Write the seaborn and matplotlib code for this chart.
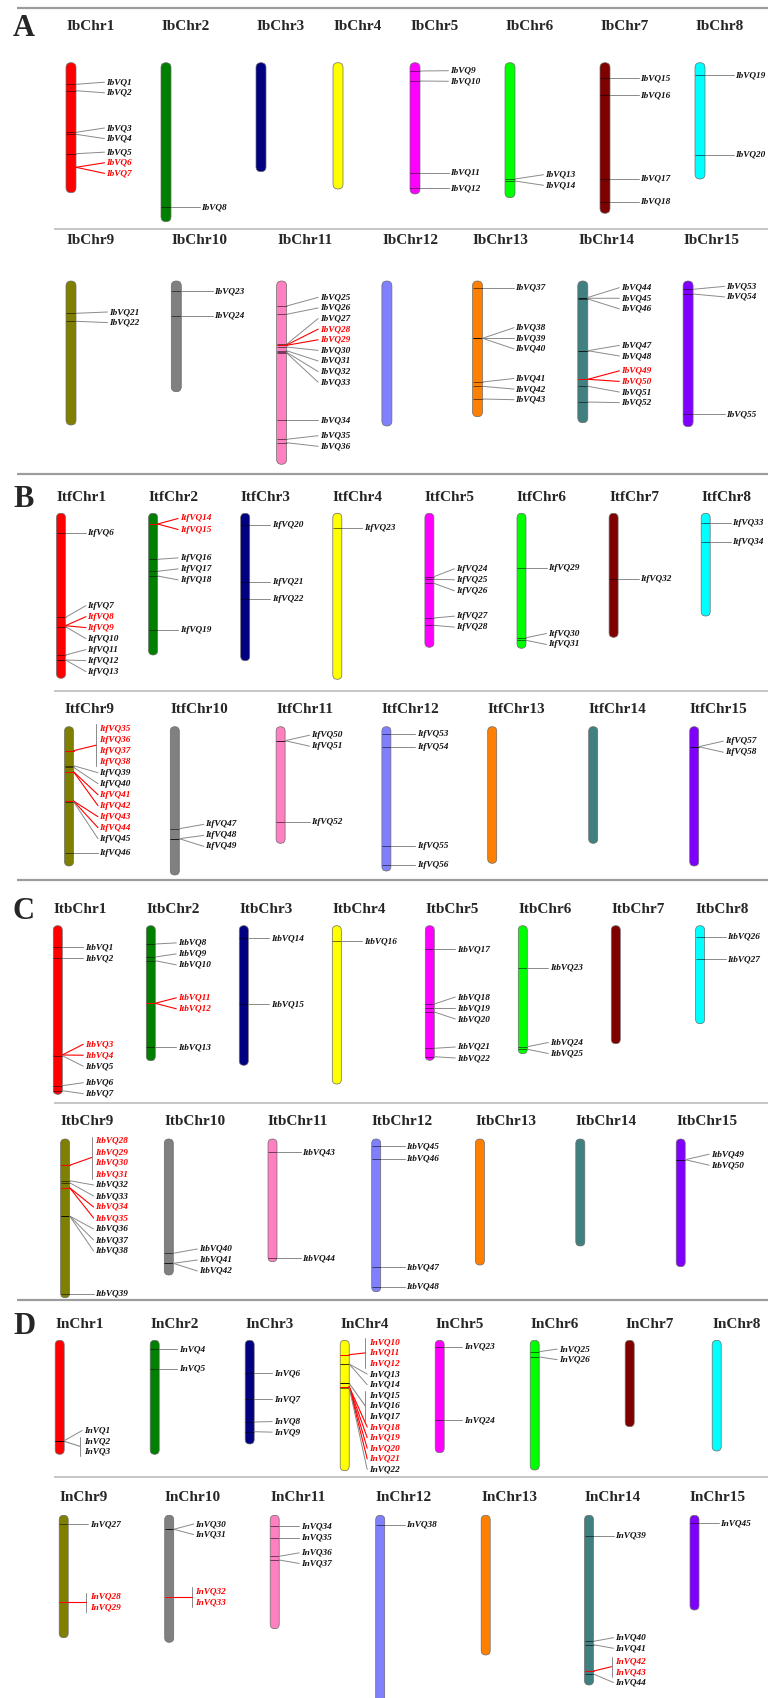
import numpy as np
import matplotlib
matplotlib.use("Agg")
import matplotlib.pyplot as plt
from matplotlib.patches import FancyBboxPatch
import seaborn as sns

# chromosome colours, same order in every genome (Chr1 .. Chr15)
CHR_COLORS = ["#FF0000", "#008000", "#000080", "#FFFF00", "#FF00FF", "#00FF00",
              "#800000", "#00FFFF", "#808000", "#808080", "#FF80C0", "#8080FF",
              "#FF8000", "#408080", "#8000FF"]

# ---- A: I. batatas (IbChr / IbVQ) ----
A_LEN = [130, 159, 109, 126.3, 131.3, 135, 150.6, 116.3,
         144, 110.7, 183.3, 145, 135.7, 141.7, 145.7]
A_GENE_CHR = [1, 1, 1, 1, 1, 1, 1, 2, 5, 5, 5, 5, 6, 6, 7, 7, 7, 7, 8, 8,
              9, 9, 10, 10, 11, 11, 11, 11, 11, 11, 11, 11, 11, 11, 11, 11,
              13, 13, 13, 13, 13, 13, 13, 14, 14, 14, 14, 14, 14, 14, 14, 14,
              15, 15, 15]
A_GENE_POS = [21.6, 28, 69.6, 71.6, 91, 104.6, 104.6, 144.6, 8.3, 18.3, 110, 125.6,
              116.3, 118.3, 15.6, 32.6, 116, 139, 12.6, 92,
              32.3, 40.3, 10.3, 34.7, 25, 33.3, 63.3, 64, 64.3, 66, 69.7, 71.3, 72,
              139, 158.3, 161.7, 6.7, 57.3, 57.3, 57.3, 101, 105.3, 118,
              16.5, 17.3, 18, 69.7, 69.7, 98.3, 98.3, 105.3, 121, 8.3, 13, 133]
A_RED = [6, 7, 28, 29, 49, 50]
A_TANDEM = []

# ---- B: I. trifida (ItfChr / ItfVQ), numbering starts at 6 ----
B_LEN = [165, 141.7, 147.4, 166, 134, 135, 124, 102.7,
         139.3, 148.3, 116.6, 144.3, 136.6, 116.6, 139.3]
B_GENE_CHR = [1, 1, 1, 1, 1, 1, 1, 1, 2, 2, 2, 2, 2, 2, 3, 3, 3, 4,
              5, 5, 5, 5, 5, 6, 6, 6, 7, 8, 8,
              9, 9, 9, 9, 9, 9, 9, 9, 9, 9, 9, 9, 10, 10, 10, 11, 11, 11,
              12, 12, 12, 12, 15, 15]
B_GENE_POS = [19.4, 104, 112.4, 112.4, 113.4, 141.7, 146.7, 146.7,
              10.7, 10.7, 46, 58, 62.7, 117, 11.7, 69, 85.4, 15,
              63.4, 66, 70, 104.7, 112, 54.4, 124.4, 127, 65.7, 10, 28.7,
              24, 24, 24, 24, 39, 40.6, 45, 45, 74.3, 74.3, 75, 126,
              102, 112, 112, 14, 14, 95, 7.3, 20, 119.3, 138.3, 20, 20]
B_RED = [8, 9, 14, 15, 35, 36, 37, 38, 41, 42, 43, 44]
B_TANDEM = [(35, 38)]

# ---- C: I. triloba (ItbChr / ItbVQ) ----
C_LEN = [168.6, 135, 139.6, 158.3, 134.6, 128, 118, 98,
         158.7, 136, 122.7, 152.7, 126, 107, 127.7]
C_GENE_CHR = [1, 1, 1, 1, 1, 1, 1, 2, 2, 2, 2, 2, 2, 3, 3, 4,
              5, 5, 5, 5, 5, 5, 6, 6, 6, 8, 8,
              9, 9, 9, 9, 9, 9, 9, 9, 9, 9, 9, 9, 10, 10, 10, 11, 11,
              12, 12, 12, 12, 15, 15]
C_GENE_POS = [21.6, 32.6, 129.3, 129.3, 130, 160, 165, 18.3, 31.3, 35, 77.6, 77.6, 121.6,
              12.6, 78.3, 15.6, 23.3, 78.3, 82.3, 86.3, 122.6, 131, 42, 121, 123.6, 11, 33.6,
              26.3, 26.3, 26.3, 26.3, 41.7, 43.7, 48.7, 48.7, 77, 77, 77, 154.7,
              114.3, 124.3, 124.3, 13, 119, 7.3, 20, 128.3, 148, 20.7, 20.7]
C_RED = [3, 4, 11, 12, 28, 29, 30, 31, 34, 35]
C_TANDEM = [(28, 31)]

# ---- D: I. nil (InChr / InVQ) ----
D_LEN = [114, 114, 103.7, 130.4, 112.4, 129.7, 86.4, 110.7,
         122.4, 127, 113.4, 190, 139.7, 169.7, 94.7]
D_GENE_CHR = [1, 1, 1, 2, 2, 3, 3, 3, 3,
              4, 4, 4, 4, 4, 4, 4, 4, 4, 4, 4, 4, 4, 5, 5, 6, 6,
              9, 9, 9, 10, 10, 10, 10, 11, 11, 11, 11, 12,
              14, 14, 14, 14, 14, 14, 15]
D_GENE_POS = [100.4, 101, 101, 9, 28.7, 33, 59, 81.7, 91.4,
              14.4, 14.4, 14.4, 23.7, 23.7, 43, 43, 43, 46.4, 46.4, 46.4, 46.4, 47.4,
              6.4, 79.7, 11.4, 16.7, 8.7, 87, 87, 14, 14, 81.7, 81.7,
              10.7, 22.4, 41, 44.7, 9.4, 20.4, 126, 129.4, 155.7, 155.7, 158.7, 8]
D_RED = [10, 11, 12, 18, 19, 20, 21, 28, 29, 32, 33, 42, 43]
D_TANDEM = [(2, 3), (10, 12), (15, 17), (28, 29), (32, 33), (42, 43)]

# page layout (pixels of the 768 x 1698 page)
# x0: first chromosome of each row; step: (after a labelled chr, after a bare chr)
LAYOUT = {
    "A": dict(line=8.3, title=(26, 240), top=(62.7, 281), sep=229.3,
              x0=(71, 71), step=((95, 77), (105.3, 90.6)), lab=(35, 38), w=10, gap=10.6),
    "B": dict(line=474, title=(497.3, 709), top=(513.3, 726.7), sep=691,
              x0=(61, 69), step=((92.1, 85), (105.8, 101)), lab=(26.5, 30.5), w=9, gap=11),
    "C": dict(line=880.3, title=(909.7, 1121.7), top=(925.7, 1139), sep=1103.3,
              x0=(57.8, 65.1), step=((93, 84.3), (103.7, 100.4)), lab=(27, 30), w=9, gap=11),
    "D": dict(line=1300, title=(1324.3, 1497.3), top=(1340.3, 1515.3), sep=1476.7,
              x0=(59.7, 63.7), step=((95, 87), (105.5, 103.3)), lab=(24, 26), w=9, gap=10.6),
}


def spread(ys, gap, lo):
    # push labels apart, each crowded group centred on its genes
    groups = []
    for y in ys:
        groups.append([y])
        while len(groups) > 1:
            g, p = groups[-1], groups[-2]
            s = max(np.mean(g) - gap * (len(g) - 1) / 2, lo)
            ps = max(np.mean(p) - gap * (len(p) - 1) / 2, lo)
            if s < ps + gap * (len(p) - 1) + gap:
                groups[-2] = p + g
                groups.pop()
            else:
                break
    out = []
    for g in groups:
        s = max(np.mean(g) - gap * (len(g) - 1) / 2, lo)
        out += [s + gap * k for k in range(len(g))]
    return out


def draw_panel(ax, key, chr_pref, gene_pref, lens, gene_chr, gene_pos, red, tandem, first_no):
    L = LAYOUT[key]
    ax.plot([17, 768], [L["line"]] * 2, color="#9c9c9c", lw=1.6, solid_capstyle="butt")
    ax.plot([54, 768], [L["sep"]] * 2, color="#bcbcbc", lw=1.2, solid_capstyle="butt")
    ax.text(13, L["title"][0] + 2, key, fontsize=22, fontweight="bold", ha="left", va="center")

    nums = [first_no + i for i in range(len(gene_pos))]
    tandem_of = {}
    for a, b in tandem:
        for n in range(a, b + 1):
            tandem_of[n] = (a, b)

    xc = None
    for c in range(1, 16):
        row = 0 if c <= 8 else 1
        if c in (1, 9):
            xc = L["x0"][row]
        else:
            labelled = (c - 1) in gene_chr
            xc += L["step"][row][0 if labelled else 1]
        top = L["top"][row]
        w = L["w"]
        ax.text(xc - 4.5, L["title"][row], f"{chr_pref}Chr{c}", fontsize=11,
                fontweight="bold", ha="left", va="center")
        ax.add_patch(FancyBboxPatch((xc - w / 2, top), w, lens[c - 1],
                                    boxstyle=f"round,pad=0,rounding_size={w / 2}",
                                    fc=CHR_COLORS[c - 1], ec="#6a6a6a", lw=0.5, zorder=2))

        idx = sorted([i for i in range(len(gene_chr)) if gene_chr[i] == c],
                     key=lambda i: (gene_pos[i], nums[i]))
        if not idx:
            continue
        gy = [top + gene_pos[i] for i in idx]
        ly = spread(gy, L["gap"], top + 2)
        lx = xc + L["lab"][row]
        done = set()
        for i, g, y in zip(idx, gy, ly):
            n = nums[i]
            is_red = n in red
            col_line = "#FF0000" if is_red else "#8a8a8a"
            ax.plot([xc - w / 2, xc + w / 2], [g, g], color="#FF0000" if is_red else "#000000",
                    alpha=0.85 if is_red else 0.55, lw=0.7, zorder=3, solid_capstyle="butt")
            if n in tandem_of:
                grp = tandem_of[n]
                if grp not in done:
                    done.add(grp)
                    k = [j for j, ii in enumerate(idx) if nums[ii] in range(grp[0], grp[1] + 1)]
                    y0, y1 = ly[k[0]], ly[k[-1]]
                    ax.plot([lx - 3.5, lx - 3.5], [y0 - 4.5, y1 + 4.5], color="#8a8a8a", lw=0.7, zorder=3)
                    ax.plot([xc + w / 2, lx - 3.5], [g, (y0 + y1) / 2], color=col_line, lw=0.8, zorder=3)
            else:
                ax.plot([xc + w / 2, lx - 1.5], [g, y], color=col_line, lw=0.8 if is_red else 0.7, zorder=3)
            ax.text(lx, y, f"{gene_pref}{n}", fontsize=6.7, fontweight="bold", fontstyle="italic",
                    color="#FF0000" if is_red else "#111111", ha="left", va="center", zorder=4)


sns.set_theme(style="white")
plt.rcParams["font.family"] = ["Liberation Serif", "DejaVu Serif"]

fig = plt.figure(figsize=(7.68, 16.98), dpi=100)
ax = fig.add_axes([0, 0, 1, 1])
ax.set_xlim(0, 768)
ax.set_ylim(1698, 0)
ax.axis("off")

draw_panel(ax, "A", "Ib", "IbVQ", A_LEN, A_GENE_CHR, A_GENE_POS, A_RED, A_TANDEM, 1)
draw_panel(ax, "B", "Itf", "ItfVQ", B_LEN, B_GENE_CHR, B_GENE_POS, B_RED, B_TANDEM, 6)
draw_panel(ax, "C", "Itb", "ItbVQ", C_LEN, C_GENE_CHR, C_GENE_POS, C_RED, C_TANDEM, 1)
draw_panel(ax, "D", "In", "InVQ", D_LEN, D_GENE_CHR, D_GENE_POS, D_RED, D_TANDEM, 1)

fig.savefig("out.png", dpi=100, facecolor="white")
